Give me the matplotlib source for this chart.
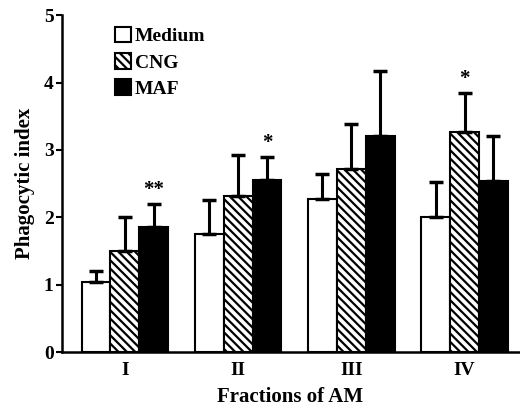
import matplotlib.pyplot as plt
import numpy as np

plt.rcParams['font.family'] = ['Liberation Serif', 'DejaVu Serif']
plt.rcParams['font.weight'] = 'bold'
plt.rcParams['hatch.linewidth'] = 1.6

fractions = ["I", "II", "III", "IV"]
groups = ["Medium", "CNG", "MAF"]
means = {
    "Medium": [1.04, 1.76, 2.27, 2.0],
    "CNG": [1.5, 2.31, 2.71, 3.26],
    "MAF": [1.86, 2.56, 3.2, 2.54],
}
errs = {
    "Medium": [0.16, 0.5, 0.38, 0.52],
    "CNG": [0.5, 0.62, 0.68, 0.58],
    "MAF": [0.34, 0.33, 0.97, 0.67],
}
# 有意差マーク (群, 位置, 記号)
marks = [("MAF", 0, "**"), ("MAF", 1, "*"), ("CNG", 3, "*")]

styles = {
    "Medium": dict(color="white", hatch=None),
    "CNG": dict(color="white", hatch="\\\\\\\\"),
    "MAF": dict(color="black", hatch=None),
}

fig = plt.figure(figsize=(5.2, 4.09), dpi=100)
ax = fig.add_axes([0.119, 0.139, 0.879, 0.824])

x = np.arange(len(fractions))
w = 0.255
for k, g in enumerate(groups):
    pos = x + (k - 1) * w
    ax.bar(pos, means[g], width=w, color=styles[g]["color"],
           hatch=styles[g]["hatch"], edgecolor="black", linewidth=1.5,
           label=g)
    ax.errorbar(pos, means[g], yerr=[np.zeros(4), errs[g]], fmt="none",
                ecolor="black", elinewidth=2.2, capsize=5, capthick=2.5)

for g, i, s in marks:
    k = groups.index(g)
    ax.text(x[i] + (k - 1) * w, means[g][i] + errs[g][i] + 0.06, s,
            ha="center", va="bottom", fontsize=15, fontweight="bold")

ax.set_xlim(-0.556, 3.48)
ax.set_ylim(0, 5)
ax.set_yticks([0, 1, 2, 3, 4, 5])
ax.set_xticks(x)
ax.set_xticklabels(fractions, fontsize=14, fontweight="bold")
for t in ax.get_yticklabels():
    t.set_fontweight("bold")
ax.tick_params(axis="y", labelsize=14, length=4, width=1.5, pad=2)
ax.tick_params(axis="x", length=0, pad=7)
ax.spines["top"].set_visible(False)
ax.spines["right"].set_visible(False)
ax.spines["left"].set_linewidth(1.8)
ax.spines["bottom"].set_linewidth(1.8)

ax.set_xlabel("Fractions of AM", fontsize=15, fontweight="bold", labelpad=6)
ax.set_ylabel("Phagocytic index", fontsize=15, fontweight="bold", labelpad=6)

ax.legend(loc="upper left", bbox_to_anchor=(0.09, 1.0), frameon=False,
          prop=dict(size=14, weight="bold"), handlelength=0.85,
          handleheight=0.85, handletextpad=0.2, labelspacing=0.4,
          borderaxespad=0.2)

fig.savefig("out.png", dpi=100)
